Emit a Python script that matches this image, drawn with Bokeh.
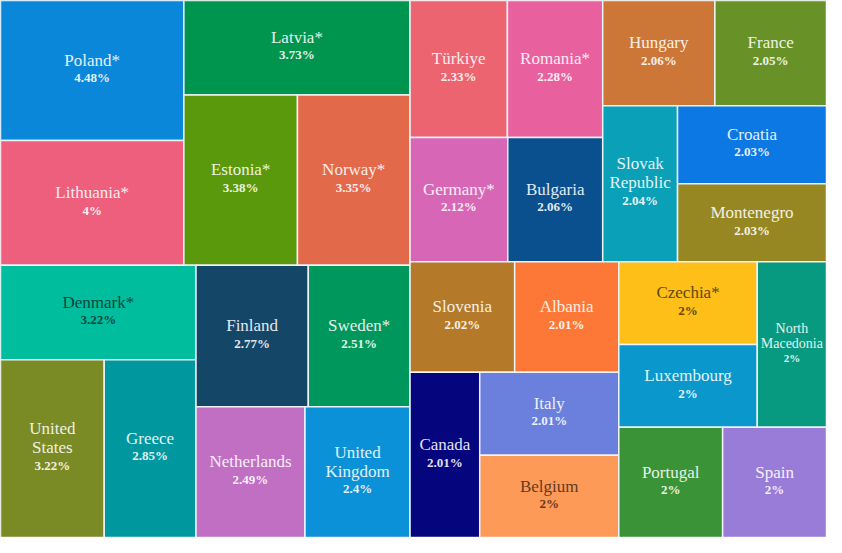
from bokeh.plotting import figure
from bokeh.models import ColumnDataSource, Range1d
from bokeh.embed import file_html
from bokeh.resources import INLINE
from bokeh.core.properties import value

# ---- data ----
countries = ["Poland*", "Lithuania*", "Latvia*", "Estonia*", "Norway*", "Denmark*",
             "United States", "Greece", "Finland", "Sweden*", "Netherlands", "United Kingdom",
             "Türkiye", "Romania*", "Germany*", "Bulgaria", "Hungary", "France",
             "Slovak Republic", "Croatia", "Montenegro", "Slovenia", "Albania", "Canada",
             "Italy", "Belgium", "Czechia*", "Luxembourg", "North Macedonia", "Portugal", "Spain"]
shares = [4.48, 4.0, 3.73, 3.38, 3.35, 3.22, 3.22, 2.85, 2.77, 2.51, 2.49, 2.4,
          2.33, 2.28, 2.12, 2.06, 2.06, 2.05, 2.04, 2.03, 2.03, 2.02, 2.01, 2.01,
          2.01, 2.0, 2.0, 2.0, 2.0, 2.0, 2.0]
palette = ["#0a87d9", "#ee5e7d", "#00954f", "#5a990c", "#e3694b", "#00bd9e",
           "#7a8a24", "#00979f", "#134667", "#00975d", "#c06fc3", "#0a91d7",
           "#ec6470", "#e8609e", "#d766b7", "#0a4f8e", "#cc7637", "#689227",
           "#0aa0b8", "#0b78e4", "#978722", "#b47a2a", "#fd7736", "#05057e",
           "#6b7fdc", "#fe9a58", "#fdbf18", "#0a97cc", "#079a80", "#3a9337", "#997bd8"]
line_breaks = {"United States": "United\nStates", "United Kingdom": "United\nKingdom",
               "Slovak Republic": "Slovak\nRepublic", "North Macedonia": "North\nMacedonia"}

# ---- binary treemap layout (d3.treemapBinary) ----
W, H = 842.0, 553.0


def binary_layout(vals, x0, y0, x1, y1):
    n = len(vals)
    sums = [0]
    for v in vals:
        sums.append(sums[-1] + v)
    out = [None] * n

    def part(i, j, val, x0, y0, x1, y1):
        if i >= j - 1:
            out[i] = (x0, y0, x1, y1)
            return
        off = sums[i]
        target = val / 2 + off
        k, hi = i + 1, j - 1
        while k < hi:
            mid = (k + hi) // 2
            if sums[mid] < target:
                k = mid + 1
            else:
                hi = mid
        if (target - sums[k - 1]) < (sums[k] - target) and i + 1 < k:
            k -= 1
        vl = sums[k] - off
        vr = val - vl
        if (x1 - x0) > (y1 - y0):
            xk = (x0 * vr + x1 * vl) / val
            part(i, k, vl, x0, y0, xk, y1)
            part(k, j, vr, xk, y0, x1, y1)
        else:
            yk = (y0 * vr + y1 * vl) / val
            part(i, k, vl, x0, y0, x1, yk)
            part(k, j, vr, x0, yk, x1, y1)

    part(0, n, sums[n], x0, y0, x1, y1)
    return out


cents = [int(round(s * 100)) for s in shares]
rects = binary_layout(cents, 0.0, 0.0, W, H)


def hex2rgb(h):
    h = h.lstrip("#")
    return tuple(int(h[i:i + 2], 16) for i in (0, 2, 4))


def lum(h):
    def lin(c):
        c = c / 255.0
        return c / 12.92 if c <= 0.03928 else ((c + 0.055) / 1.055) ** 2.4
    r, g, b = hex2rgb(h)
    return 0.2126 * lin(r) + 0.7152 * lin(g) + 0.0722 * lin(b)


def mix(h, other, t):
    a = hex2rgb(h)
    b = hex2rgb(other)
    return "#%02x%02x%02x" % tuple(int(round(a[i] * (1 - t) + b[i] * t)) for i in range(3))


p = figure(width=826, height=537, output_backend="svg", toolbar_location=None,
           x_range=Range1d(0, W), y_range=Range1d(H, 0), min_border=0)
p.axis.visible = False
p.grid.visible = False
p.outline_line_color = None
p.background_fill_color = "white"

src = ColumnDataSource(dict(
    left=[r[0] for r in rects], right=[r[2] for r in rects],
    top=[r[1] for r in rects], bottom=[r[3] for r in rects],
    color=palette))
p.quad(left="left", right="right", top="top", bottom="bottom", source=src,
       fill_color="color", line_color="#eef3f8", line_width=1.5)

# labels
name_x, name_y, name_txt, name_col, name_off, name_size = [], [], [], [], [], []
val_x, val_y, val_txt, val_col, val_off, val_size = [], [], [], [], [], []
for c, s, col, (x0, y0, x1, y1) in zip(countries, shares, palette, rects):
    lines = line_breaks.get(c, c).split("\n")
    w = x1 - x0
    longest = max(len(l) for l in lines)
    fs = min(17.0, (w - 8) / (0.5 * longest))
    vs = 13.0 * fs / 17.0
    lh = 19.0 * fs / 17.0
    gap = 17.5 * fs / 17.0
    block = lh * (len(lines) - 1) + gap
    cx, cy = (x0 + x1) / 2, (y0 + y1) / 2
    first = -block / 2 - 1.5
    dark = lum(col) > 0.37
    tcol = mix(col, "#000000", 0.62) if dark else mix(col, "#ffffff", 0.88)
    for li, l in enumerate(lines):
        name_x.append(cx); name_y.append(cy); name_txt.append(l)
        name_col.append(tcol); name_off.append(first + li * lh)
        name_size.append("%dpx" % round(fs))
    val_x.append(cx); val_y.append(cy); val_txt.append(f"{s:g}%")
    val_col.append(tcol); val_off.append(first + (len(lines) - 1) * lh + gap)
    val_size.append("%dpx" % round(vs))

FONT = value("'Liberation Serif', 'Times New Roman', serif")
nsrc = ColumnDataSource(dict(x=name_x, y=name_y, text=name_txt, color=name_col,
                             off=name_off, size=name_size))
vsrc = ColumnDataSource(dict(x=val_x, y=val_y, text=val_txt, color=val_col,
                             off=val_off, size=val_size))
p.text(x="x", y="y", text="text", source=nsrc, text_color="color", y_offset="off",
       text_font=FONT, text_font_size="size",
       text_align="center", text_baseline="middle")
p.text(x="x", y="y", text="text", source=vsrc, text_color="color", y_offset="off",
       text_font=FONT, text_font_size="size", text_font_style="bold",
       text_align="center", text_baseline="middle")

open("out.html", "w").write(file_html(p, INLINE))
